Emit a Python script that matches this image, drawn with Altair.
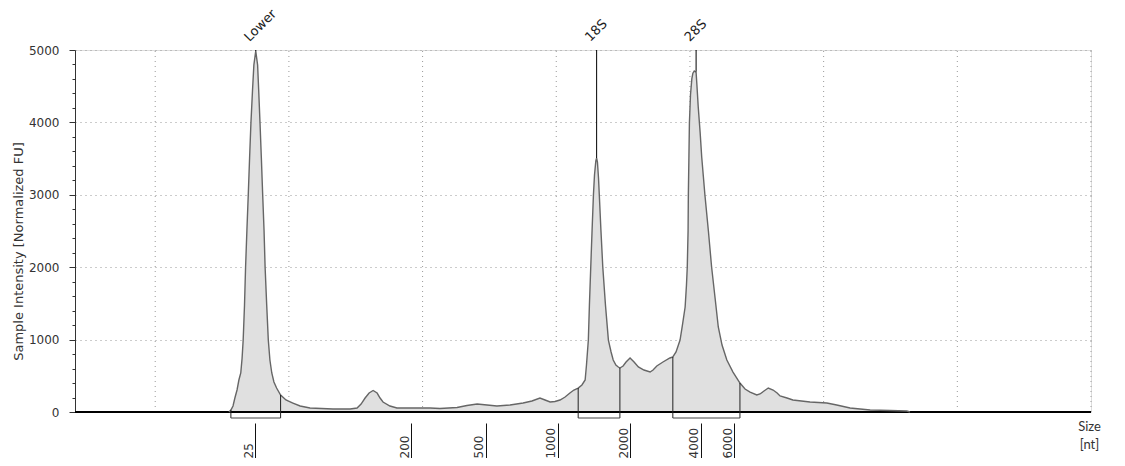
import altair as alt
import pandas as pd

# ---- electropherogram trace: migration time (s) and intensity (normalized FU)
trace_time = [22.76, 22.83, 22.91, 22.98, 23.06, 23.13, 23.20, 23.25, 23.29, 23.34,
              23.38, 23.43, 23.48, 23.53, 23.58, 23.64, 23.69, 23.76, 23.83, 23.87,
              23.92, 23.97, 24.02, 24.07, 24.11, 24.17, 24.23, 24.29, 24.36, 24.44,
              24.54, 24.69, 24.89, 25.15, 25.42, 25.79, 26.65, 27.29, 27.55, 27.70,
              27.85, 28.00, 28.15, 28.30, 28.41, 28.52, 28.78, 29.04, 30.28, 30.65,
              31.29, 31.66, 32.04, 32.41, 32.78, 33.27, 33.76, 34.09, 34.39, 34.58,
              34.77, 34.95, 35.14, 35.33, 35.51, 35.66, 35.82, 35.96, 36.08, 36.13,
              36.20, 36.24, 36.29, 36.34, 36.39, 36.43, 36.48, 36.51, 36.54, 36.58,
              36.61, 36.67, 36.74, 36.84, 36.95, 37.05, 37.13, 37.23, 37.32, 37.38,
              37.50, 37.61, 37.76, 37.91, 38.07, 38.28, 38.51, 38.62, 38.76, 38.99,
              39.25, 39.36, 39.48, 39.63, 39.72, 39.82, 39.87, 39.90, 39.93, 39.94,
              39.96, 39.98, 40.02, 40.07, 40.11, 40.16, 40.23, 40.26, 40.31, 40.38,
              40.44, 40.50, 40.56, 40.69, 40.81, 40.94, 41.06, 41.20, 41.38, 41.61,
              41.87, 42.06, 42.25, 42.50, 42.62, 42.77, 42.93, 43.11, 43.26, 43.37,
              43.63, 43.85, 44.49, 45.12, 45.49, 45.99, 46.74, 47.48, 48.11, 48.23]
trace_fu = [0, 28, 83, 193, 304, 442, 539, 746, 994, 1478,
            2003, 2514, 2997, 3508, 3992, 4447, 4793, 4985, 4793, 4447,
            3992, 3508, 2997, 2514, 2003, 1478, 994, 718, 539, 414,
            331, 235, 166, 124, 83, 55, 41, 41, 55, 110,
            193, 262, 297, 262, 193, 138, 83, 55, 55, 48,
            62, 90, 110, 97, 83, 97, 124, 152, 193, 166,
            138, 145, 166, 207, 262, 304, 331, 373, 442, 649,
            994, 1478, 2003, 2514, 2997, 3273, 3467, 3508, 3453, 3232,
            2997, 2514, 2003, 1478, 994, 829, 718, 649, 622, 608,
            635, 691, 746, 691, 622, 580, 552, 580, 635, 691,
            746, 760, 829, 994, 1202, 1450, 1754, 2003, 2500, 2997,
            3481, 3992, 4378, 4600, 4680, 4710, 4690, 4520, 4213, 3867,
            3522, 3260, 2997, 2500, 2003, 1575, 1174, 925, 718, 552,
            400, 318, 276, 235, 249, 290, 331, 304, 262, 221,
            193, 166, 138, 124, 97, 55, 28, 21, 14, 0]

# ---- axes / annotations
time_range = [17, 55]
fu_range = [0, 5000]
fu_ticks = list(range(0, 5001, 200))
grid_times = [20, 25, 30, 35, 40, 45, 50, 55]
ladder_sizes = [25, 200, 500, 1000, 2000, 4000, 6000]
ladder_times = [23.74, 29.57, 32.37, 35.06, 37.76, 40.41, 41.65]

peak_names = ["Lower", "18S", "28S"]
peak_times = [23.76, 36.51, 40.23]
peak_heights = [4985, 3508, 4700]
label_level = 5000

win_start = [22.83, 35.82, 39.36]
win_end = [24.69, 37.38, 41.87]
win_start_fu = [28, 331, 760]
win_end_fu = [235, 608, 400]
box_floor = -83

FONT = "DejaVu Sans"
TXT = "#333333"

XS = alt.Scale(domain=time_range, nice=False, zero=False)
YS = alt.Scale(domain=fu_range, nice=False, zero=False)

ladder_expr = "'' + %s[indexof(%s, datum.value)]" % (ladder_sizes, ladder_times)

X_AXIS = alt.Axis(
    values=ladder_times, labelExpr=ladder_expr, offset=11, domain=False, grid=False,
    ticks=True, tickSize=40, tickColor="#111111", tickWidth=1,
    labelAngle=270, labelAlign="left", labelBaseline="bottom", labelPadding=-5,
    labelFlush=False, labelOverlap=False, labelFont=FONT, labelFontSize=12, labelColor=TXT,
    title=["Size", "[nt]"], titleFont="Lato", titleFontSize=13, titleFontWeight="normal",
    titleColor=TXT, titleX=1014, titleY=-3, titleAlign="center", titleBaseline="top",
    titleLineHeight=18, titleAngle=0,
)
Y_AXIS = alt.Axis(
    values=fu_ticks, format="d",
    labelExpr="datum.value % 1000 === 0 ? datum.label : ''",
    tickSize={"condition": {"test": "datum.value % 1000 === 0", "value": 6}, "value": 3},
    tickColor="#333333", domainColor="#333333", domainWidth=1,
    grid=True, gridDash=[1, 4], gridColor="#999999",
    gridOpacity={"condition": {"test": "datum.value % 1000 === 0 && datum.value > 0", "value": 1}, "value": 0},
    labelFont=FONT, labelFontSize=12, labelColor=TXT, labelPadding=10, labelOverlap=False,
    title="Sample Intensity [Normalized FU]", titleX=-57, titleY=201, titleAngle=270,
    titleAlign="center", titleBaseline="middle", titleFont=FONT, titleFontSize=13,
    titleFontWeight="normal", titleColor=TXT,
)


def X(f):
    return alt.X(f, type="quantitative", scale=XS, axis=X_AXIS)


def Y(f):
    return alt.Y(f, type="quantitative", scale=YS, axis=Y_AXIS)


trace = pd.DataFrame({"t": trace_time, "fu": trace_fu})
grid = pd.DataFrame({"t": grid_times, "lo": fu_range[0], "hi": fu_range[1]})
base = pd.DataFrame({"t0": [time_range[0]], "t1": [time_range[1]], "y": [0]})
bounds = pd.DataFrame({"t": win_start + win_end, "top": win_start_fu + win_end_fu,
                       "floor": box_floor})
boxes = pd.DataFrame({"t0": win_start, "t1": win_end, "floor": box_floor})
peaks = pd.DataFrame({"name": peak_names, "t": peak_times, "h": peak_heights,
                      "lvl": label_level})

grid_layer = alt.Chart(grid).mark_rule(color="#9a9a9a", strokeDash=[1, 4], strokeWidth=1).encode(
    x=X("t"), y=Y("lo"), y2="hi")
area_layer = alt.Chart(trace).mark_area(color="#e0e0e0", opacity=1).encode(x=X("t"), y=Y("fu"))
base_layer = alt.Chart(base).mark_rule(color="#000000", strokeWidth=2).encode(
    x=X("t0"), x2="t1", y=Y("y"))
line_layer = alt.Chart(trace).mark_line(color="#666666", strokeWidth=1.4).encode(
    x=X("t"), y=Y("fu"))
bound_layer = alt.Chart(bounds).mark_rule(color="#222222", strokeWidth=1).encode(
    x=X("t"), y=Y("top"), y2="floor")
box_layer = alt.Chart(boxes).mark_rule(color="#444444", strokeWidth=1).encode(
    x=X("t0"), x2="t1", y=Y("floor"))
peak_layer = alt.Chart(peaks).mark_rule(color="#000000", strokeWidth=1).encode(
    x=X("t"), y=Y("h"), y2="lvl")
text_layer = alt.Chart(peaks).mark_text(
    angle=315, align="left", baseline="alphabetic", dx=1, dy=-10,
    font=FONT, fontSize=13, color="#222222").encode(x=X("t"), y=Y("lvl"), text="name:N")

chart = alt.layer(grid_layer, area_layer, base_layer, line_layer, bound_layer,
                  box_layer, peak_layer, text_layer).properties(
    width=1016, height=362,
    autosize=alt.AutoSizeParams(type="none"),
    padding={"left": 67, "top": 42, "right": 26, "bottom": 46},
).configure_view(stroke=None).configure(background="white")

chart.save("out.html", embed_options={"renderer": "svg", "actions": False})
